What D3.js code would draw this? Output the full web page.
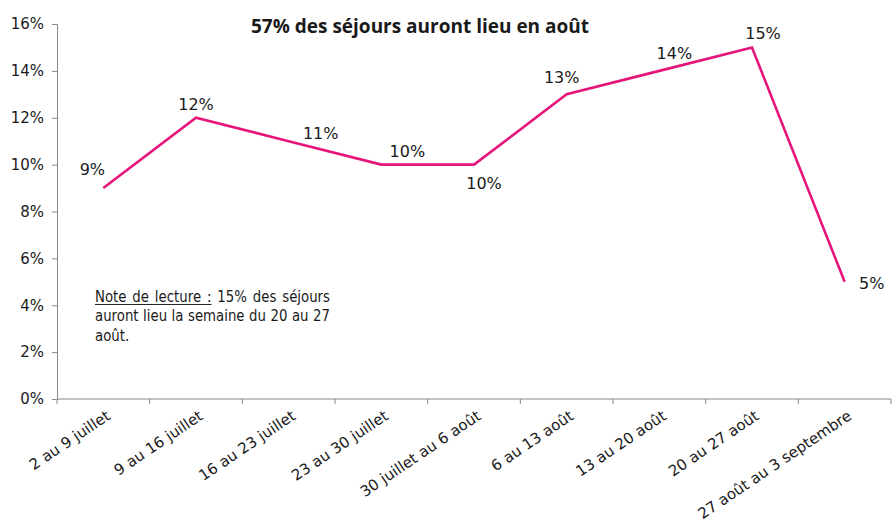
<!DOCTYPE html>
<html>
<head>
    <meta charset='utf-8'>
    <title>Séjours</title>
    <script src='https://cdn.jsdelivr.net/npm/d3@7/dist/d3.min.js'></script>
    <style>
        body { margin: 0; background: #fff; }
        text { font-family: 'DejaVu Sans', Verdana, sans-serif; fill: #1a1a1a; }
    </style>
</head>
<body>
    <svg width='892' height='523'></svg>
    <script>
        // données
        const semaines = ['2 au 9 juillet', '9 au 16 juillet', '16 au 23 juillet', '23 au 30 juillet',
            '30 juillet au 6 août', '6 au 13 août', '13 au 20 août', '20 au 27 août', '27 août au 3 septembre']
        const parts = [9, 12, 11, 10, 10, 13, 14, 15, 5]
        const yTicks = [0, 2, 4, 6, 8, 10, 12, 14, 16]
        const titre = '57% des séjours auront lieu en août'
        const noteSouligne = 'Note de lecture :'
        // lignes de la note, telles que dans l'original
        const noteLignes = ['15% des séjours', 'auront lieu la semaine du 20 au 27', 'août.']

        // position des étiquettes autour de chaque point [dx, dy]
        const labelPos = [[-11, -13], [0, -8], [32, -2], [26, -8],
            [10, 24], [-5, -11], [15, -12], [11, -8], [27, 7]]

        const svg = d3.select('svg')
        const plot = { left: 57, right: 891, top: 24, bottom: 399 }

        const x = d3.scaleBand(semaines, [plot.left, plot.right]).padding(0)
        const y = d3.scaleLinear([0, 16], [plot.bottom, plot.top])

        // axe Y
        const gy = svg.append('g').attr('transform', `translate(${plot.left},0)`)
            .call(d3.axisLeft(y).tickValues(yTicks).tickSize(5).tickPadding(8).tickFormat(d => d + '%'))
        gy.attr('font-family', null)
        gy.select('.domain').attr('stroke', '#888')
        gy.selectAll('.tick line').attr('stroke', '#888')
        gy.selectAll('.tick text').attr('font-size', '15px').attr('fill', null)

        // axe X : traits aux limites des catégories
        const gx = svg.append('g').attr('transform', `translate(0,${plot.bottom})`)
        gx.append('line').attr('x1', plot.left).attr('x2', plot.right).attr('stroke', '#888')
        const bornes = semaines.map(d => x(d)).concat([x.range()[1]])
        gx.selectAll('line.tk').data(bornes).join('line').attr('class', 'tk')
            .attr('x1', d => d).attr('x2', d => d).attr('y1', 0).attr('y2', 5).attr('stroke', '#888')
        gx.selectAll('text.lab').data(semaines).join('text').attr('class', 'lab')
            .attr('transform', d => `translate(${x(d) + x.bandwidth() / 2 + 5},${15}) rotate(-34)`)
            .attr('text-anchor', 'end').attr('dy', '0.35em')
            .attr('font-size', '15px')
            .text(d => d)

        // courbe
        const cx = (d, i) => x(semaines[i]) + x.bandwidth() / 2
        const line = d3.line().x(cx).y(d => y(d))
        svg.append('path').datum(parts)
            .attr('d', line).attr('fill', 'none')
            .attr('stroke', '#E6157C').attr('stroke-width', 2.6).attr('stroke-linejoin', 'miter')

        // étiquettes de données
        svg.selectAll('text.val').data(parts).join('text').attr('class', 'val')
            .attr('x', (d, i) => cx(d, i) + labelPos[i][0])
            .attr('y', (d, i) => y(d) + labelPos[i][1])
            .attr('text-anchor', 'middle')
            .attr('font-size', '16px')
            .text(d => d + '%')

        // titre
        svg.append('text').attr('x', 420).attr('y', 33).attr('text-anchor', 'middle')
            .style('font-family', "'Open Sans', sans-serif").attr('font-weight', 700).attr('font-size', '19px')
            .text(titre)

        // note de lecture, justifiée mot par mot, resserrée horizontalement
        const note = { x: 95, right: 330, y: 302, lh: 19.5, size: 15 }
        const gNote = svg.append('g')
        const mesure = gNote.append('text').attr('font-size', note.size + 'px')
        const larg = m => { mesure.text(m); return mesure.node().getComputedTextLength() }
        const k = Math.min(1, (note.right - note.x - 2) / larg(noteLignes[1]))
        gNote.attr('transform', `translate(${note.x},0) scale(${k},1)`)
        const largeur = (note.right - note.x) / k
        const espace = larg('a a') - larg('aa')
        const lignes = noteLignes.map((t, li) => {
            const mots = t.split(' ').map(m => ({ m, u: false }))
            return li === 0 ? noteSouligne.split(' ').map(m => ({ m, u: true })).concat(mots) : mots
        })
        lignes.forEach(l => l.forEach(d => d.w = larg(d.m)))
        mesure.remove()
        lignes.forEach((l, li) => {
            const total = d3.sum(l, d => d.w)
            const last = li === lignes.length - 1
            const gap = (!last && l.length > 1) ? (largeur - total) / (l.length - 1) : espace
            let px = 0
            const yy = note.y + li * note.lh
            let uEnd = null
            l.forEach(d => {
                gNote.append('text').attr('x', px).attr('y', yy).attr('font-size', note.size + 'px').text(d.m)
                if (d.u) uEnd = px + d.w
                px += d.w + gap
            })
            if (uEnd !== null) {
                gNote.append('line').attr('x1', 0).attr('x2', uEnd)
                    .attr('y1', yy + 2.5).attr('y2', yy + 2.5).attr('stroke', '#1a1a1a').attr('stroke-width', 1)
            }
        })
    </script>
</body>
</html>
